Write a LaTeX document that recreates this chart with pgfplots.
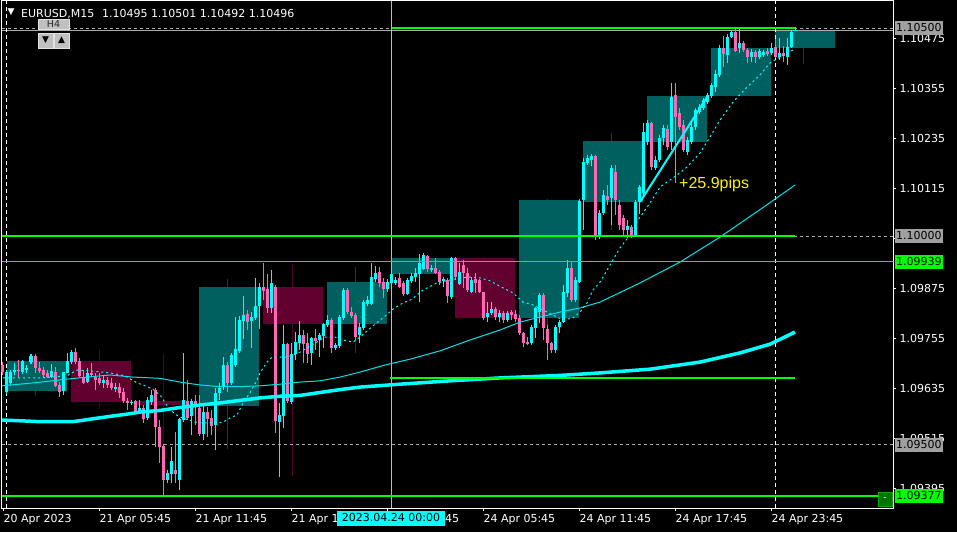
\documentclass[border=0pt]{standalone}
\usepackage{fontspec}
\setmainfont{DejaVu Sans}
\newfontfamily\arialf{Liberation Sans}
\usepackage{pgfplots}
\usepackage{pgfplotstable}
\pgfplotsset{compat=1.18}

\definecolor{bull}{RGB}{0,255,255}
\definecolor{bear}{RGB}{255,105,180}
\definecolor{tealbox}{RGB}{0,96,96}
\definecolor{marbox}{RGB}{98,0,48}
\definecolor{tealwick}{RGB}{0,70,70}
\definecolor{marwick}{RGB}{80,0,40}
\definecolor{lime}{RGB}{0,255,0}
\definecolor{lvlgray}{RGB}{170,170,170}
\definecolor{lblgray}{RGB}{160,160,160}
\definecolor{mamid}{RGB}{0,225,235}
\definecolor{cross}{RGB}{170,195,195}
\definecolor{btn}{RGB}{192,192,192}

% M15 candles, x = bar position
\pgfplotstableread{
x o h l c
7 1.09626 1.09679 1.09621 1.09674
11 1.09648 1.09679 1.09643 1.09674
15 1.09674 1.09696 1.09667 1.09679
23 1.09674 1.09703 1.09669 1.09701
27 1.09679 1.09691 1.09672 1.09684
31 1.09698 1.09717 1.09693 1.09713
51 1.09662 1.09693 1.09660 1.09677
63 1.09629 1.09674 1.09619 1.09674
67 1.09672 1.09720 1.09672 1.09701
71 1.09698 1.09727 1.09693 1.09722
87 1.09650 1.09684 1.09648 1.09672
103 1.09648 1.09667 1.09636 1.09655
115 1.09633 1.09648 1.09626 1.09638
131 1.09600 1.09607 1.09595 1.09602
139 1.09581 1.09607 1.09576 1.09588
147 1.09564 1.09614 1.09559 1.09607
151 1.09602 1.09631 1.09595 1.09619
167 1.09415 1.09439 1.09408 1.09432
171 1.09429 1.09494 1.09408 1.09461
179 1.09415 1.09564 1.09391 1.09561
183 1.09559 1.09720 1.09554 1.09607
191 1.09569 1.09609 1.09523 1.09605
203 1.09525 1.09600 1.09511 1.09578
215 1.09547 1.09636 1.09487 1.09624
219 1.09624 1.09648 1.09607 1.09636
223 1.09638 1.09710 1.09631 1.09691
231 1.09648 1.09720 1.09643 1.09715
235 1.09691 1.09806 1.09686 1.09729
239 1.09725 1.09809 1.09720 1.09799
243 1.09797 1.09857 1.09753 1.09811
251 1.09797 1.09818 1.09732 1.09806
255 1.09804 1.09900 1.09799 1.09833
259 1.09833 1.09888 1.09777 1.09878
271 1.09828 1.09919 1.09816 1.09888
279 1.09554 1.09600 1.09422 1.09571
283 1.09569 1.09787 1.09540 1.09741
291 1.09602 1.09744 1.09597 1.09717
295 1.09717 1.09770 1.09703 1.09746
299 1.09744 1.09797 1.09727 1.09763
311 1.09720 1.09758 1.09691 1.09756
319 1.09751 1.09768 1.09710 1.09763
323 1.09761 1.09792 1.09732 1.09789
327 1.09787 1.09811 1.09782 1.09799
335 1.09732 1.09744 1.09727 1.09739
339 1.09737 1.09811 1.09732 1.09806
343 1.09804 1.09876 1.09799 1.09871
359 1.09763 1.09792 1.09744 1.09782
363 1.09780 1.09847 1.09775 1.09842
367 1.09837 1.09857 1.09833 1.09847
371 1.09837 1.09936 1.09835 1.09902
375 1.09897 1.09929 1.09890 1.09912
387 1.09873 1.09897 1.09866 1.09890
391 1.09888 1.09914 1.09883 1.09909
395 1.09888 1.09902 1.09883 1.09895
407 1.09861 1.09900 1.09859 1.09895
411 1.09893 1.09912 1.09888 1.09905
415 1.09902 1.09924 1.09890 1.09912
419 1.09909 1.09957 1.09842 1.09936
423 1.09921 1.09960 1.09919 1.09955
431 1.09919 1.09931 1.09914 1.09924
443 1.09893 1.09902 1.09878 1.09897
451 1.09854 1.09950 1.09849 1.09948
459 1.09885 1.09936 1.09883 1.09914
471 1.09866 1.09902 1.09864 1.09895
487 1.09806 1.09842 1.09794 1.09816
491 1.09816 1.09842 1.09811 1.09825
499 1.09806 1.09823 1.09794 1.09816
507 1.09799 1.09821 1.09794 1.09816
531 1.09744 1.09787 1.09739 1.09782
535 1.09780 1.09830 1.09756 1.09828
539 1.09818 1.09864 1.09792 1.09859
555 1.09727 1.09787 1.09720 1.09782
559 1.09782 1.09799 1.09768 1.09794
563 1.09794 1.09883 1.09792 1.09866
567 1.09864 1.09943 1.09854 1.09924
575 1.09847 1.09902 1.09842 1.09895
579 1.09890 1.10089 1.09888 1.10085
583 1.10087 1.10188 1.10015 1.10178
587 1.10176 1.10195 1.10171 1.10188
591 1.10183 1.10197 1.10169 1.10193
599 1.09998 1.10063 1.09993 1.10056
603 1.10056 1.10111 1.10051 1.10099
611 1.10092 1.10171 1.10027 1.10164
627 1.10015 1.10039 1.09996 1.10025
635 1.10003 1.10087 1.10001 1.10082
639 1.10082 1.10123 1.10053 1.10118
643 1.10104 1.10272 1.10099 1.10250
647 1.10226 1.10279 1.10219 1.10272
655 1.10164 1.10193 1.10159 1.10183
659 1.10183 1.10243 1.10178 1.10236
663 1.10236 1.10267 1.10219 1.10260
671 1.10226 1.10368 1.10207 1.10334
687 1.10202 1.10238 1.10195 1.10231
691 1.10226 1.10272 1.10221 1.10262
695 1.10262 1.10308 1.10255 1.10303
699 1.10298 1.10317 1.10293 1.10310
703 1.10308 1.10332 1.10303 1.10327
707 1.10322 1.10344 1.10317 1.10339
711 1.10337 1.10368 1.10332 1.10363
715 1.10358 1.10399 1.10346 1.10389
719 1.10387 1.10459 1.10382 1.10452
727 1.10435 1.10485 1.10416 1.10478
731 1.10478 1.10495 1.10476 1.10490
739 1.10452 1.10500 1.10440 1.10464
751 1.10430 1.10449 1.10418 1.10442
759 1.10430 1.10449 1.10425 1.10445
763 1.10435 1.10447 1.10430 1.10442
771 1.10440 1.10464 1.10435 1.10452
779 1.10430 1.10476 1.10423 1.10440
787 1.10430 1.10476 1.10411 1.10454
791 1.10454 1.10495 1.10452 1.10490
795 1.10495 1.10501 1.10492 1.10496
}\bulltab

\pgfplotstableread{
x o h l c
3 1.09691 1.09698 1.09667 1.09674
19 1.09679 1.09703 1.09660 1.09677
35 1.09713 1.09717 1.09672 1.09684
39 1.09684 1.09698 1.09672 1.09677
43 1.09679 1.09686 1.09660 1.09667
47 1.09672 1.09679 1.09660 1.09662
55 1.09674 1.09686 1.09638 1.09641
59 1.09643 1.09650 1.09614 1.09626
75 1.09722 1.09732 1.09693 1.09698
79 1.09701 1.09708 1.09662 1.09665
83 1.09662 1.09679 1.09645 1.09648
91 1.09672 1.09696 1.09662 1.09667
95 1.09662 1.09672 1.09631 1.09655
99 1.09660 1.09672 1.09643 1.09648
107 1.09655 1.09662 1.09636 1.09643
111 1.09648 1.09660 1.09631 1.09636
119 1.09638 1.09648 1.09612 1.09624
123 1.09626 1.09636 1.09600 1.09605
127 1.09605 1.09612 1.09583 1.09600
135 1.09605 1.09607 1.09578 1.09581
143 1.09588 1.09595 1.09552 1.09561
155 1.09631 1.09636 1.09494 1.09542
159 1.09542 1.09559 1.09456 1.09494
163 1.09497 1.09501 1.09374 1.09415
175 1.09439 1.09530 1.09408 1.09429
187 1.09605 1.09655 1.09559 1.09564
195 1.09605 1.09619 1.09547 1.09593
199 1.09588 1.09619 1.09521 1.09525
207 1.09578 1.09590 1.09518 1.09561
211 1.09564 1.09583 1.09523 1.09545
227 1.09691 1.09698 1.09626 1.09648
247 1.09813 1.09823 1.09775 1.09794
263 1.09878 1.09936 1.09847 1.09869
267 1.09873 1.09909 1.09816 1.09828
275 1.09878 1.09883 1.09528 1.09557
287 1.09741 1.09744 1.09600 1.09605
303 1.09763 1.09775 1.09696 1.09741
307 1.09744 1.09768 1.09696 1.09717
315 1.09756 1.09777 1.09727 1.09749
331 1.09799 1.09804 1.09720 1.09732
347 1.09871 1.09876 1.09813 1.09818
351 1.09818 1.09830 1.09804 1.09809
355 1.09811 1.09816 1.09751 1.09758
379 1.09914 1.09926 1.09878 1.09888
383 1.09890 1.09900 1.09852 1.09873
399 1.09900 1.09912 1.09876 1.09878
403 1.09888 1.09893 1.09857 1.09861
427 1.09953 1.09955 1.09914 1.09921
435 1.09924 1.09948 1.09909 1.09912
439 1.09914 1.09919 1.09883 1.09890
447 1.09895 1.09900 1.09840 1.09857
455 1.09948 1.09950 1.09895 1.09902
463 1.09931 1.09943 1.09876 1.09912
467 1.09912 1.09924 1.09866 1.09871
475 1.09897 1.09912 1.09864 1.09888
479 1.09895 1.09897 1.09864 1.09866
483 1.09866 1.09866 1.09799 1.09804
495 1.09825 1.09830 1.09799 1.09806
503 1.09816 1.09821 1.09792 1.09799
511 1.09818 1.09823 1.09799 1.09811
515 1.09813 1.09823 1.09794 1.09801
519 1.09804 1.09811 1.09763 1.09768
523 1.09768 1.09770 1.09734 1.09744
527 1.09746 1.09758 1.09739 1.09741
543 1.09859 1.09864 1.09751 1.09780
547 1.09777 1.09787 1.09703 1.09744
551 1.09744 1.09746 1.09720 1.09727
571 1.09924 1.09938 1.09842 1.09847
595 1.10193 1.10195 1.09991 1.09998
607 1.10097 1.10123 1.10075 1.10087
615 1.10154 1.10171 1.10051 1.10087
619 1.10075 1.10087 1.10015 1.10027
623 1.10044 1.10051 1.10003 1.10015
631 1.10022 1.10027 1.09996 1.09998
651 1.10272 1.10274 1.10159 1.10166
667 1.10257 1.10267 1.10207 1.10214
675 1.10339 1.10368 1.10128 1.10286
679 1.10296 1.10308 1.10255 1.10262
683 1.10267 1.10279 1.10202 1.10207
723 1.10452 1.10481 1.10406 1.10437
735 1.10490 1.10497 1.10442 1.10445
743 1.10464 1.10469 1.10442 1.10447
747 1.10447 1.10452 1.10416 1.10430
755 1.10442 1.10447 1.10416 1.10430
767 1.10445 1.10452 1.10433 1.10437
775 1.10454 1.10473 1.10428 1.10430
783 1.10440 1.10457 1.10418 1.10433
}\beartab

\begin{document}
\begin{tikzpicture}[x=1pt,y=1pt]
\fill[black] (0,0) rectangle (957,532);
\begin{axis}[
  at={(2pt,531pt)}, anchor=north west,
  width=891pt, height=507pt, scale only axis,
  xmin=2, xmax=893, ymin=1.093478, ymax=1.105646,
  clip=false,
  axis line style={white, line width=1pt},
  tick style={white, line width=0.8pt},
  tick align=outside, major tick length=3pt,
  xtick pos=bottom, ytick pos=right, yticklabel pos=right,
  ytick={1.09395,1.09515,1.09635,1.09755,1.09875,1.09995,1.10115,1.10235,1.10355,1.10475},
  yticklabels={1.09395,1.09515,1.09635,1.09755,1.09875,,1.10115,1.10235,1.10355,1.10475},
  xtick={3,99,195,291,387,483,579,675,771},
  xticklabels={20 Apr 2023,21 Apr 05:45,21 Apr 11:45,21 Apr 17:45,21 Apr 23:45,24 Apr 05:45,24 Apr 11:45,24 Apr 17:45,24 Apr 23:45},
  ticklabel style={white, font=\fontsize{11}{13}\selectfont},
  xticklabel style={anchor=north west, xshift=-3pt},
  yticklabel style={anchor=west},
]
% H4 candle wicks and bodies
\addplot[tealwick, line width=1pt, unbounded coords=jump] coordinates {
 (35,1.09617)(35,1.09701) (35,nan)
 (227,1.09489)(227,1.09897) (227,nan)
 (355,1.09720)(355,1.09926) (355,nan)
 (419,1.09842)(419,1.09957) (419,nan)
 (547,1.09703)(547,1.10089) (547,nan)
 (611,1.10015)(611,1.10248) (611,nan)
 (675,1.10128)(675,1.10368) (675,nan)
 (739,1.10337)(739,1.10500) (739,nan)
 (803,1.10413)(803,1.10500)};
\addplot[marwick, line width=1pt, unbounded coords=jump] coordinates {
 (99,1.09585)(99,1.09729) (99,nan)
 (163,1.09380)(163,1.09717) (163,nan)
 (292,1.09425)(292,1.09933) (292,nan)
 (483,1.09799)(483,1.09950)};
\addplot[fill=tealbox, draw=none] coordinates {(7,1.09629)(67,1.09629)(67,1.09701)(7,1.09701)} -- cycle;
\addplot[fill=marbox, draw=none] coordinates {(71,1.09602)(131,1.09602)(131,1.09701)(71,1.09701)} -- cycle;
\addplot[fill=marbox, draw=none] coordinates {(134,1.09595)(182,1.09595)(182,1.09605)(134,1.09605)} -- cycle;
\addplot[fill=tealbox, draw=none] coordinates {(199,1.09593)(259,1.09593)(259,1.09878)(199,1.09878)} -- cycle;
\addplot[fill=marbox, draw=none] coordinates {(263,1.09789)(323,1.09789)(323,1.09878)(263,1.09878)} -- cycle;
\addplot[fill=tealbox, draw=none] coordinates {(327,1.09789)(387,1.09789)(387,1.09890)(327,1.09890)} -- cycle;
\addplot[fill=tealbox, draw=none] coordinates {(391,1.09909)(451,1.09909)(451,1.09948)(391,1.09948)} -- cycle;
\addplot[fill=marbox, draw=none] coordinates {(455,1.09804)(515,1.09804)(515,1.09948)(455,1.09948)} -- cycle;
\addplot[fill=tealbox, draw=none] coordinates {(519,1.09804)(579,1.09804)(579,1.10087)(519,1.10087)} -- cycle;
\addplot[fill=tealbox, draw=none] coordinates {(583,1.10082)(643,1.10082)(643,1.10229)(583,1.10229)} -- cycle;
\addplot[fill=tealbox, draw=none] coordinates {(647,1.10226)(707,1.10226)(707,1.10337)(647,1.10337)} -- cycle;
\addplot[fill=tealbox, draw=none] coordinates {(711,1.10337)(771,1.10337)(771,1.10452)(711,1.10452)} -- cycle;
\addplot[fill=tealbox, draw=none] coordinates {(775,1.10452)(835,1.10452)(835,1.10493)(775,1.10493)} -- cycle;

% round levels, bid line, vertical markers
\addplot[lvlgray, line width=0.8pt, dash pattern=on 3pt off 3pt] coordinates {(2,1.10500)(893,1.10500)};
\addplot[lvlgray, line width=0.8pt, dash pattern=on 3pt off 3pt] coordinates {(2,1.10000)(893,1.10000)};
\addplot[lvlgray, line width=0.8pt, dash pattern=on 3pt off 3pt] coordinates {(2,1.09500)(893,1.09500)};
\addplot[lvlgray, line width=1pt] coordinates {(2,1.10493)(893,1.10493)};
\addplot[white, line width=1pt, dash pattern=on 4pt off 3pt] coordinates {(7,1.093478)(7,1.105646)};
\addplot[white, line width=1pt, dash pattern=on 4pt off 3pt] coordinates {(775,1.093478)(775,1.105646)};
\addplot[cross, line width=0.8pt] coordinates {(391,1.093478)(391,1.105646)};

% M15 candles
\addplot[bull, line width=1pt, quiver={u=0, v={\thisrow{h}-\thisrow{l}}}] table[x=x, y=l] {\bulltab};
\addplot[bull, line width=3pt, quiver={u=0, v={\thisrow{c}-\thisrow{o}}}] table[x=x, y=o] {\bulltab};
\addplot[bear, line width=1pt, quiver={u=0, v={\thisrow{h}-\thisrow{l}}}] table[x=x, y=l] {\beartab};
\addplot[bear, line width=3pt, quiver={u=0, v={\thisrow{c}-\thisrow{o}}}] table[x=x, y=o] {\beartab};

% moving averages
\addplot[bull, line width=3.5pt] coordinates {
 (2,1.09559)(40,1.09555)(73,1.09555)(85,1.09559)(93,1.09562)(105,1.09566)(117,1.09570)
 (127,1.09573)(140,1.09578)(160,1.09582)(180,1.09589)(200,1.09595)(220,1.09600)(240,1.09606)
 (260,1.09612)(280,1.09616)(300,1.09618)(320,1.09625)(340,1.09632)(360,1.09638)(400,1.09645)
 (450,1.09653)(500,1.09660)(560,1.09666)(600,1.09672)(650,1.09681)(700,1.09698)(740,1.09720)
 (770,1.09741)(795,1.09770)};
\addplot[mamid, line width=1pt] coordinates {
 (2,1.09641)(33,1.09648)(67,1.09657)(87,1.09662)(110,1.09667)(133,1.09662)(160,1.09659)
 (180,1.09650)(200,1.09643)(220,1.09639)(240,1.09639)(260,1.09641)(280,1.09645)(300,1.09650)
 (320,1.09653)(340,1.09662)(360,1.09674)(385,1.09691)(410,1.09705)(440,1.09725)(470,1.09751)
 (500,1.09775)(520,1.09794)(540,1.09806)(560,1.09818)(580,1.09828)(600,1.09842)(640,1.09888)
 (680,1.09938)(720,1.09998)(760,1.10064)(795,1.10123)};
\addplot[bull, line width=1pt, dash pattern=on 2pt off 3pt] coordinates {
 (3,1.09660)(40,1.09660)(67,1.09665)(77,1.09679)(90,1.09677)(110,1.09672)(125,1.09665)
 (137,1.09648)(143,1.09643)(153,1.09633)(160,1.09619)(168,1.09590)(175,1.09573)(180,1.09566)
 (198,1.09552)(217,1.09552)(223,1.09554)(230,1.09564)(237,1.09571)(243,1.09600)(250,1.09624)
 (257,1.09655)(260,1.09672)(267,1.09698)(272,1.09710)(288,1.09710)(300,1.09722)(312,1.09739)
 (325,1.09758)(335,1.09758)(343,1.09751)(353,1.09746)(360,1.09758)(373,1.09785)(383,1.09804)
 (393,1.09825)(403,1.09840)(412,1.09849)(423,1.09871)(437,1.09888)(450,1.09895)(460,1.09900)
 (470,1.09902)(480,1.09900)(490,1.09893)(503,1.09876)(513,1.09864)(523,1.09842)(533,1.09835)
 (543,1.09823)(553,1.09811)(563,1.09799)(573,1.09804)(580,1.09818)(587,1.09840)(593,1.09871)
 (600,1.09890)(620,1.09972)(630,1.10003)(638,1.10039)(650,1.10080)(660,1.10118)(677,1.10147)
 (687,1.10166)(700,1.10200)(710,1.10238)(720,1.10279)(733,1.10322)(747,1.10358)(760,1.10387)
 (770,1.10416)(780,1.10430)(793,1.10447)};

% trend line
\addplot[bull, line width=2pt] coordinates {(640,1.10082)(707,1.10334)};

% horizontal level objects
\addplot[lime, line width=2pt] coordinates {(392,1.10500)(795,1.10500)};
\addplot[lime, line width=2pt] coordinates {(2,1.10000)(795,1.10000)};
\addplot[lime, line width=1pt] coordinates {(2,1.09939)(893,1.09939)};
\addplot[lime, line width=1.6pt] coordinates {(390,1.09660)(795,1.09660)};
\addplot[lime, line width=1.4pt] coordinates {(2,1.09377)(893,1.09377)};

\coordinate (L1) at (axis cs:893,1.10500);
\coordinate (L2) at (axis cs:893,1.10000);
\coordinate (L3) at (axis cs:893,1.09939);
\coordinate (L4) at (axis cs:893,1.09500);
\coordinate (L5) at (axis cs:893,1.09377);
\end{axis}

\tikzset{plabel/.style={anchor=west, text=black, inner xsep=1.5pt, inner ysep=2pt,
  text height=8.5pt, text depth=1.5pt, font=\fontsize{11}{13}\selectfont}}
\node[plabel, fill=lblgray] at ([xshift=1.5pt]L1) {1.10500};
\node[plabel, fill=lblgray] at ([xshift=1.5pt]L2) {1.10000};
\node[plabel, fill=lime] at ([xshift=1.5pt]L3) {1.09939};
\node[plabel, fill=lblgray] at ([xshift=1.5pt]L4) {1.09500};
\node[plabel, fill=lime] at ([xshift=1.5pt]L5) {1.09377};

% crosshair date label
\node[fill=bull, text=black, inner xsep=5pt, inner ysep=2pt, text height=8.5pt, text depth=1.5pt,
  font=\fontsize{11}{13}\selectfont] at (391,13.5) {2023.04.24 00:00};

% close button of the lowest level
\draw[fill={rgb,255:red,0;green,115;blue,0}, draw={rgb,255:red,0;green,170;blue,0}] (878,26) rectangle (892,40);
\node[white, font=\fontsize{9}{10}\selectfont] at (885,33) {-};

% header
\node[white, font=\fontsize{9}{10}\selectfont, inner sep=0] at (11,520) {▼};
\node[white, anchor=base west, inner sep=0, font=\fontsize{11}{13}\selectfont] at (21,514.7)
  {EURUSD,M15\hspace{0.7em}1.10495 1.10501 1.10492 1.10496};

% H4 period buttons
\draw[fill=btn, draw={rgb,255:red,225;green,225;blue,225}] (38,503) rectangle (69,513);
\node[text={rgb,255:red,40;green,40;blue,40}, font=\fontsize{9.5}{10}\selectfont, inner sep=0] at (53.5,508) {H4};
\draw[fill=btn, draw={rgb,255:red,225;green,225;blue,225}] (38,484) rectangle (53,499);
\draw[fill=btn, draw={rgb,255:red,225;green,225;blue,225}] (54,484) rectangle (69,499);
\node[black, font=\fontsize{9}{10}\selectfont, inner sep=0] at (45.5,491.5) {▼};
\node[black, font=\fontsize{9}{10}\selectfont, inner sep=0] at (61.5,491.5) {▲};

% pip distance label
\node[text=yellow, anchor=base west, inner sep=0, font=\arialf\fontsize{16}{18}\selectfont] at (679,343.5) {+25.9pips};

\pgfresetboundingbox
\path[use as bounding box] (0,0) rectangle (957,532);
\end{tikzpicture}
\end{document}
